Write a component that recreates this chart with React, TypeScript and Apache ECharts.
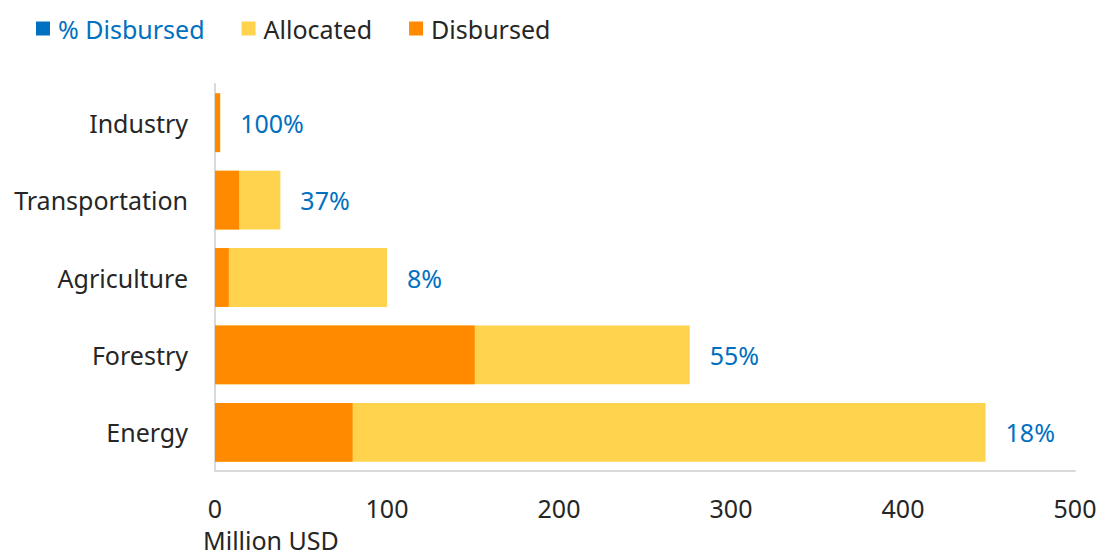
import React, { useEffect, useRef } from "react";
import * as echarts from "echarts";

const categories = ["Energy", "Forestry", "Agriculture", "Transportation", "Industry"];
const allocated = [448, 276, 100, 38, 3];
const disbursed = [80, 151, 8, 14, 3];
const pctDisbursed = [18, 55, 8, 37, 100];
const xTicks = [0, 100, 200, 300, 400, 500];

const FONT = "'Noto Sans', sans-serif";

export default function App() {
  const ref = useRef<HTMLDivElement>(null);
  useEffect(() => {
    if (!ref.current) return;
    const chart = echarts.init(ref.current, undefined, { renderer: "svg" });
    chart.setOption({
      animation: false,
      textStyle: { fontFamily: FONT },
      legend: {
        left: 31,
        top: 11,
        icon: "rect",
        itemWidth: 14,
        itemHeight: 14,
        itemGap: 37,
        textStyle: { fontSize: 25, color: "#262626", fontFamily: FONT, padding: [0, 0, 0, 3] },
        data: [
          { name: "% Disbursed", itemStyle: { color: "#0070C0" }, textStyle: { color: "#0070C0" } },
          { name: "Allocated" },
          { name: "Disbursed" },
        ],
      },
      grid: { left: 215, right: 29, top: 84, bottom: 85, containLabel: false },
      xAxis: {
        type: "value",
        min: xTicks[0],
        max: xTicks[xTicks.length - 1],
        interval: 100,
        axisLine: { show: true, lineStyle: { color: "#D9D9D9", width: 2 } },
        axisTick: { show: false },
        splitLine: { show: false },
        axisLabel: { fontSize: 25, color: "#262626", margin: 24, fontFamily: FONT },
      },
      yAxis: {
        type: "category",
        data: categories,
        axisLine: { show: true, lineStyle: { color: "#D9D9D9", width: 2 } },
        axisTick: { show: false },
        axisLabel: { fontSize: 25, color: "#262626", margin: 27, fontFamily: FONT },
      },
      graphic: [
        {
          type: "text",
          left: 203,
          top: 527,
          style: { text: "Million USD", fontSize: 25, fill: "#262626", fontFamily: FONT },
        },
      ],
      series: [
        {
          name: "Allocated",
          type: "bar",
          data: allocated,
          barWidth: "76%",
          barGap: "-100%",
          itemStyle: { color: "#FFD34E" },
        },
        {
          name: "Disbursed",
          type: "bar",
          data: disbursed,
          barWidth: "76%",
          barGap: "-100%",
          itemStyle: { color: "#FF8A00" },
        },
        {
          name: "% Disbursed",
          type: "bar",
          data: allocated,
          barWidth: "76%",
          barGap: "-100%",
          itemStyle: { color: "rgba(0,0,0,0)" },
          label: {
            show: true,
            position: "right",
            distance: 20,
            fontSize: 25,
            color: "#0070C0",
            fontFamily: FONT,
            formatter: (p: any) => pctDisbursed[p.dataIndex] + "%",
          },
          emphasis: { disabled: true },
        },
      ],
    });
    return () => chart.dispose();
  }, []);
  return (
    <div
      ref={ref}
      style={{ position: "absolute", left: 0, top: 0, width: 1104, height: 556 }}
    />
  );
}
